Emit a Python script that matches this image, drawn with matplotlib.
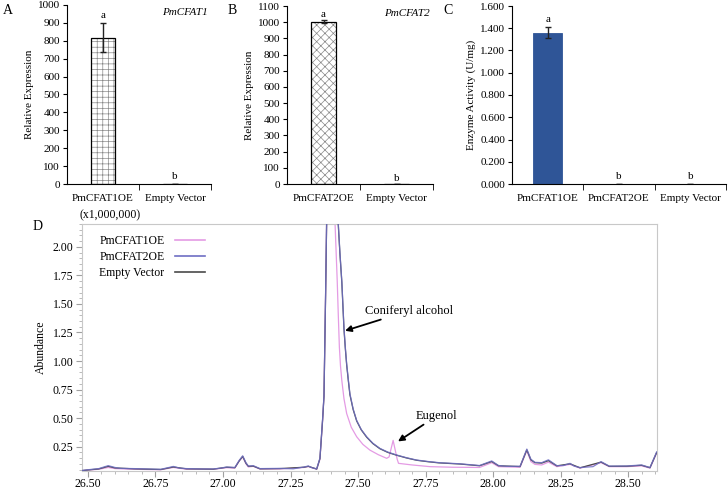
import matplotlib
matplotlib.use("Agg")
import matplotlib.pyplot as plt
from matplotlib.ticker import MultipleLocator, FixedLocator, FormatStrFormatter

plt.rcParams['font.family'] = ['Liberation Serif', 'DejaVu Serif']
plt.rcParams['hatch.linewidth'] = 0.5

# ---------------- data ----------------
a_cats = ["PmCFAT1OE", "Empty Vector"]
a_vals = [818, 1]
a_errs = [81, 0]
a_sig = ["a", "b"]

b_cats = ["PmCFAT2OE", "Empty Vector"]
b_vals = [1003, 1]
b_errs = [8, 0]
b_sig = ["a", "b"]

c_cats = ["PmCFAT1OE", "PmCFAT2OE", "Empty Vector"]
c_vals = [1.36, 0.004, 0.0]
c_errs = [0.05, 0.0, 0.0]
c_sig = ["a", "b", "b"]

# chromatogram (retention time in min, abundance x1,000,000)
t_cfat2 = [26.48, 26.50, 26.54, 26.575, 26.60, 26.62, 26.67, 26.72, 26.77, 26.80, 26.816,
           26.84, 26.865, 26.92, 26.964, 26.99, 27.014, 27.044, 27.06, 27.073, 27.085,
           27.094, 27.112, 27.137, 27.211, 27.26, 27.30, 27.316, 27.33, 27.347, 27.359,
           27.369, 27.374, 27.380, 27.386, 27.405, 27.427, 27.433, 27.440, 27.448, 27.453,
           27.458, 27.464, 27.470, 27.482, 27.495, 27.512, 27.532, 27.555, 27.581, 27.61,
           27.643, 27.68, 27.717, 27.76, 27.80, 27.878, 27.95, 27.995, 28.02,
           28.05, 28.10, 28.125, 28.14, 28.155, 28.18, 28.205, 28.236, 28.26, 28.285,
           28.30, 28.322, 28.37, 28.40, 28.43, 28.495, 28.55, 28.581, 28.606, 28.62]
y_cfat2 = [0.042, 0.048, 0.058, 0.084, 0.068, 0.060, 0.058, 0.055, 0.052, 0.068, 0.077,
           0.062, 0.058, 0.055, 0.055, 0.062, 0.072, 0.068, 0.130, 0.170, 0.110,
           0.080, 0.084, 0.058, 0.060, 0.056, 0.072, 0.081, 0.065, 0.056, 0.150,
           0.50, 0.70, 1.60, 2.60, 4.00, 2.20, 1.95, 1.70, 1.29, 1.12,
           0.975, 0.84, 0.714, 0.58, 0.48, 0.40, 0.337, 0.28, 0.235, 0.203,
           0.177, 0.153, 0.133, 0.120, 0.110, 0.100, 0.085, 0.125, 0.085,
           0.078, 0.078, 0.229, 0.140, 0.113, 0.110, 0.135, 0.084, 0.085, 0.104,
           0.080, 0.067, 0.075, 0.119, 0.080, 0.081, 0.090, 0.067, 0.206, 0.200]

t_empty = [26.48, 26.50, 26.54, 26.575, 26.60, 26.67, 26.77, 26.816, 26.865, 26.964,
           27.014, 27.044, 27.06, 27.073, 27.085, 27.094, 27.112, 27.137, 27.211, 27.30,
           27.316, 27.347, 27.359, 27.369, 27.374, 27.380, 27.386, 27.405, 27.427, 27.433,
           27.440, 27.448, 27.453, 27.458, 27.464, 27.470, 27.482, 27.495, 27.512, 27.532,
           27.555, 27.581, 27.61, 27.643, 27.68, 27.717, 27.76, 27.80, 27.878,
           27.95, 27.995, 28.02, 28.10, 28.125, 28.14, 28.155, 28.18, 28.205, 28.236,
           28.285, 28.322, 28.40, 28.43, 28.495, 28.55, 28.581, 28.606, 28.62]
y_empty = [0.041, 0.046, 0.055, 0.078, 0.064, 0.056, 0.050, 0.072, 0.056, 0.053,
           0.070, 0.066, 0.125, 0.165, 0.105, 0.078, 0.080, 0.056, 0.058, 0.070,
           0.078, 0.054, 0.145, 0.49, 0.69, 1.58, 2.58, 4.00, 2.19, 1.94,
           1.69, 1.28, 1.11, 0.965, 0.83, 0.705, 0.575, 0.475, 0.397, 0.333,
           0.277, 0.232, 0.200, 0.175, 0.151, 0.131, 0.118, 0.108, 0.098,
           0.083, 0.120, 0.083, 0.076, 0.222, 0.135, 0.110, 0.106, 0.128, 0.082,
           0.100, 0.065, 0.115, 0.078, 0.079, 0.087, 0.066, 0.200, 0.195]

t_cfat1 = [26.48, 26.50, 26.54, 26.575, 26.60, 26.67, 26.77, 26.816, 26.865, 26.964,
           27.014, 27.044, 27.06, 27.073, 27.085, 27.094, 27.112, 27.137, 27.211, 27.30,
           27.316, 27.347, 27.359, 27.369, 27.374, 27.380, 27.386, 27.400, 27.415, 27.419,
           27.423, 27.427, 27.431, 27.435, 27.440, 27.448, 27.458, 27.475, 27.495, 27.518,
           27.544, 27.575, 27.606, 27.615, 27.630, 27.645, 27.65,
           27.70, 27.767, 27.85, 27.95, 27.995, 28.02, 28.10, 28.125, 28.14, 28.155,
           28.18, 28.205, 28.236, 28.285, 28.322, 28.40, 28.43, 28.495, 28.55, 28.581,
           28.606, 28.62]
y_cfat1 = [0.040, 0.045, 0.052, 0.068, 0.058, 0.052, 0.048, 0.068, 0.052, 0.052,
           0.066, 0.062, 0.125, 0.160, 0.100, 0.072, 0.078, 0.054, 0.055, 0.068,
           0.076, 0.052, 0.140, 0.48, 0.70, 1.60, 2.60, 4.00, 2.20, 1.95,
           1.70, 1.40, 1.12, 0.96, 0.83, 0.67, 0.54, 0.42, 0.337, 0.27,
           0.220, 0.180, 0.148, 0.160, 0.305, 0.140, 0.104,
           0.090, 0.075, 0.070, 0.068, 0.110, 0.075, 0.070, 0.215, 0.120, 0.095,
           0.090, 0.115, 0.075, 0.095, 0.062, 0.110, 0.075, 0.075, 0.082, 0.062,
           0.195, 0.190]

series_names = ["PmCFAT1OE", "PmCFAT2OE", "Empty Vector"]
series_colors = ["#E49BE4", "#6E6EC4", "#4A4A4A"]

# ---------------- figure ----------------
W, H = 728, 491
fig = plt.figure(figsize=(W / 100, H / 100), dpi=100)

def px_axes(l, t, r, b):
    return fig.add_axes([l / W, 1 - b / H, (r - l) / W, (b - t) / H])

FS = 8

def style_bar_axes(ax, ncat):
    ax.spines['top'].set_visible(False)
    ax.spines['right'].set_visible(False)
    ax.set_xlim(-0.5, ncat - 0.5)
    ax.set_xticks(range(ncat))
    ax.tick_params(axis='x', which='major', length=0, pad=7, labelsize=FS)
    ax.xaxis.set_minor_locator(FixedLocator([i + 0.5 for i in range(ncat)]))
    ax.tick_params(axis='x', which='minor', length=4, direction='out')
    ax.tick_params(axis='y', length=3, direction='out', labelsize=FS, pad=2)

# Panel A
axA = px_axes(67, 5, 211, 184)
xa = list(range(len(a_cats)))
axA.bar(xa, a_vals, width=0.33, color='white', edgecolor='#888888', hatch='+++', linewidth=0)
axA.bar(xa, a_vals, width=0.33, color='none', edgecolor='black', linewidth=0.9,
        yerr=a_errs, capsize=2.2, error_kw=dict(elinewidth=1, capthick=1, ecolor='#222222'))
axA.set_ylim(0, 1000)
axA.yaxis.set_major_locator(MultipleLocator(100))
style_bar_axes(axA, len(a_cats))
axA.set_xticklabels(a_cats)
axA.set_ylabel("Relative Expression", fontsize=FS, labelpad=3)
for i, (v, e, s) in enumerate(zip(a_vals, a_errs, a_sig)):
    axA.text(i, v + e + 18, s, ha='center', va='bottom', fontsize=FS)
axA.text(0.98, 0.985, "PmCFAT1", transform=axA.transAxes, ha='right', va='top',
         fontsize=FS, style='italic')

# Panel B
axB = px_axes(287, 6, 433, 184)
xb = list(range(len(b_cats)))
axB.bar(xb, b_vals, width=0.33, color='white', edgecolor='#888888', hatch='xxxx', linewidth=0)
axB.bar(xb, b_vals, width=0.33, color='none', edgecolor='black', linewidth=0.9,
        yerr=b_errs, capsize=2.2, error_kw=dict(elinewidth=1, capthick=1, ecolor='#222222'))
axB.set_ylim(0, 1100)
axB.yaxis.set_major_locator(MultipleLocator(100))
style_bar_axes(axB, len(b_cats))
axB.set_xticklabels(b_cats)
axB.set_ylabel("Relative Expression", fontsize=FS, labelpad=3)
for i, (v, e, s) in enumerate(zip(b_vals, b_errs, b_sig)):
    axB.text(i, v + e + 8, s, ha='center', va='bottom', fontsize=FS)
axB.text(0.98, 0.985, "PmCFAT2", transform=axB.transAxes, ha='right', va='top',
         fontsize=FS, style='italic')

# Panel C
axC = px_axes(512, 6, 726, 184)
xc = list(range(len(c_cats)))
axC.bar(xc, c_vals, width=0.4, color='#2F5597', edgecolor='#2F5597', linewidth=0.6,
        yerr=c_errs, capsize=2.2, error_kw=dict(elinewidth=1, capthick=1, ecolor='#222222'))
axC.set_ylim(0, 1.6)
axC.yaxis.set_major_locator(MultipleLocator(0.2))
axC.yaxis.set_major_formatter(FormatStrFormatter('%.3f'))
style_bar_axes(axC, len(c_cats))
axC.set_xticklabels(c_cats)
axC.set_ylabel("Enzyme Activity (U/mg)", fontsize=FS, labelpad=3)
for i, (v, e, s) in enumerate(zip(c_vals, c_errs, c_sig)):
    axC.text(i, v + e + 0.025, s, ha='center', va='bottom', fontsize=FS)

# Panel D
axD = px_axes(82, 224, 657, 471)
axD.plot(t_cfat1, y_cfat1, color=series_colors[0], lw=0.9, label=series_names[0], zorder=2)
axD.plot(t_empty, y_empty, color=series_colors[2], lw=0.9, label=series_names[2], zorder=3)
axD.plot(t_cfat2, y_cfat2, color=series_colors[1], lw=0.9, alpha=0.85, label=series_names[1], zorder=4)
axD.set_xlim(26.478, 28.607)
axD.set_ylim(0.037, 2.20)
axD.xaxis.set_major_locator(MultipleLocator(0.25))
axD.xaxis.set_minor_locator(MultipleLocator(0.05))
axD.xaxis.set_major_formatter(FormatStrFormatter('%.2f'))
axD.yaxis.set_major_locator(FixedLocator([0.25, 0.5, 0.75, 1.0, 1.25, 1.5, 1.75, 2.0]))
axD.yaxis.set_minor_locator(MultipleLocator(0.05))
axD.yaxis.set_major_formatter(FormatStrFormatter('%.2f'))
for sp in axD.spines.values():
    sp.set_color('#C8C8C8')
    sp.set_linewidth(0.8)
axD.tick_params(axis='both', which='major', length=4, color='#A0A0A0', labelsize=FS + 0.5, pad=2)
axD.tick_params(axis='x', which='major', pad=1)
axD.tick_params(axis='both', which='minor', length=2, color='#B0B0B0')
axD.set_ylabel("Abundance", fontsize=FS + 0.5, labelpad=4)
axD.text(-0.005, 1.01, "(x1,000,000)", transform=axD.transAxes, ha='left', va='bottom',
         fontsize=FS + 0.5)

h = axD.get_legend_handles_labels()[0]
leg = axD.legend([h[0], h[2], h[1]], series_names, loc='upper left',
                 bbox_to_anchor=(0.03, 0.955), frameon=False, markerfirst=False,
                 fontsize=FS + 0.5, handlelength=2.5, labelspacing=0.35,
                 borderpad=0, borderaxespad=0, handletextpad=0.9)
for line in leg.get_lines():
    line.set_alpha(1)
    line.set_linewidth(1.2)

axD.annotate("Coniferyl alcohol", xy=(27.452, 1.265), xytext=(27.525, 1.44),
             fontsize=FS + 1, ha='left', va='center',
             arrowprops=dict(arrowstyle='-|>', color='black', lw=1.3, mutation_scale=9,
                             shrinkA=0, shrinkB=0))
axD.annotate("Eugenol", xy=(27.648, 0.296), xytext=(27.715, 0.52),
             fontsize=FS + 1, ha='left', va='center',
             arrowprops=dict(arrowstyle='-|>', color='black', lw=1.3, mutation_scale=9,
                             shrinkA=0, shrinkB=0))

# panel letters
for lab, x, y in [("A", 8, 10), ("B", 232, 10), ("C", 448, 10), ("D", 38, 226)]:
    fig.text(x / W, 1 - y / H, lab, fontsize=10, ha='center', va='center')

fig.savefig("out.png", dpi=100)
